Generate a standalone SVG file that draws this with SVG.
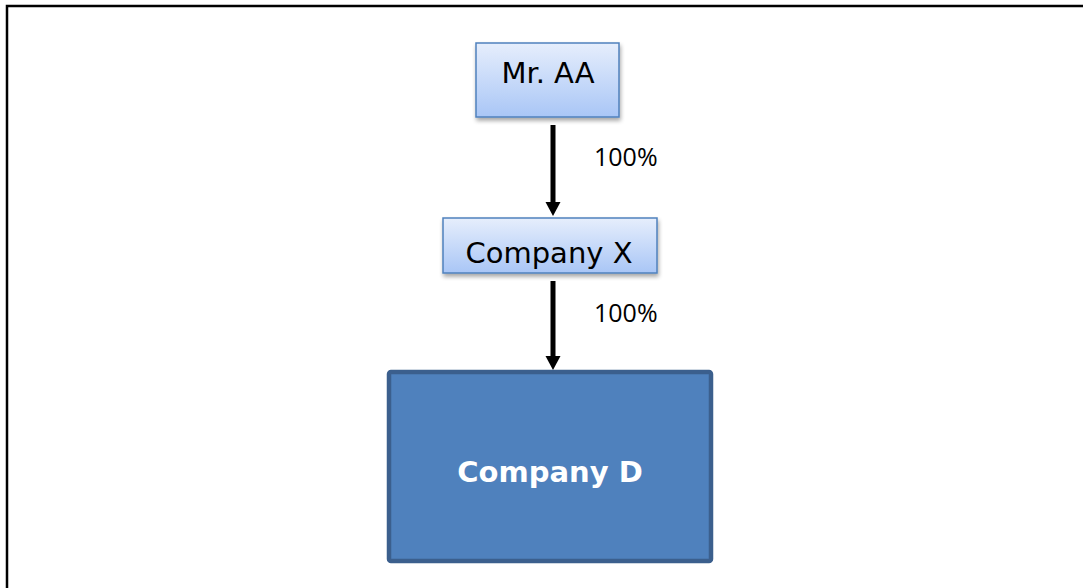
<svg xmlns="http://www.w3.org/2000/svg" width="1083" height="588" viewBox="0 0 1083 588">
<defs>
<linearGradient id="lg" x1="0" y1="0" x2="0" y2="1">
<stop offset="0" stop-color="#e6eefc"/>
<stop offset="1" stop-color="#a9c6f6"/>
</linearGradient>
<filter id="sh" x="-10%" y="-10%" width="125%" height="140%">
<feGaussianBlur in="SourceAlpha" stdDeviation="2"/>
<feOffset dx="1" dy="3" result="b"/>
<feComponentTransfer><feFuncA type="linear" slope="0.35"/></feComponentTransfer>
<feMerge><feMergeNode/><feMergeNode in="SourceGraphic"/></feMerge>
</filter>
<style>
.light{fill:url(#lg);stroke:#4f81bd;stroke-width:1.5;filter:url(#sh)}
.lt{font-family:"DejaVu Sans",Verdana,sans-serif;font-size:29px;fill:#000;text-anchor:middle}
.dark{fill:#4f81bd;stroke:#3b5f8d;stroke-width:4.5}
.dt{font-family:"DejaVu Sans",Verdana,sans-serif;font-size:29px;font-weight:bold;fill:#fff;text-anchor:middle}
.pct{font-family:"Open Sans",Calibri,sans-serif;font-size:25px;fill:#000}
.conn{stroke:#000;stroke-width:5;fill:none}
.head{fill:#000}
</style>
</defs>
<rect width="1083" height="588" fill="#fff"/>
<path d="M7,588 V6 H1083" fill="none" stroke="#000" stroke-width="2.5"/>
<g id="connectors">
<line class="conn" x1="553" y1="125" x2="553" y2="204"/>
<polygon class="head" points="545.5,202 560.5,202 553,216"/>
<line class="conn" x1="553" y1="281" x2="553" y2="358"/>
<polygon class="head" points="545.5,356 560.5,356 553,370"/>
<text class="pct" x="594" y="166">100%</text>
<text class="pct" x="594" y="322">100%</text>
</g>
<g id="node-mr-aa">
<rect class="light" x="476" y="43" width="143" height="74"/>
<text class="lt" x="548" y="83">Mr. AA</text>
</g>
<g id="node-company-x">
<rect class="light" x="443" y="218" width="214" height="55"/>
<text class="lt" x="549" y="263">Company X</text>
</g>
<g id="node-company-d">
<rect class="dark" x="389" y="372" width="322" height="189" rx="2"/>
<text class="dt" x="550" y="482">Company D</text>
</g>
</svg>
